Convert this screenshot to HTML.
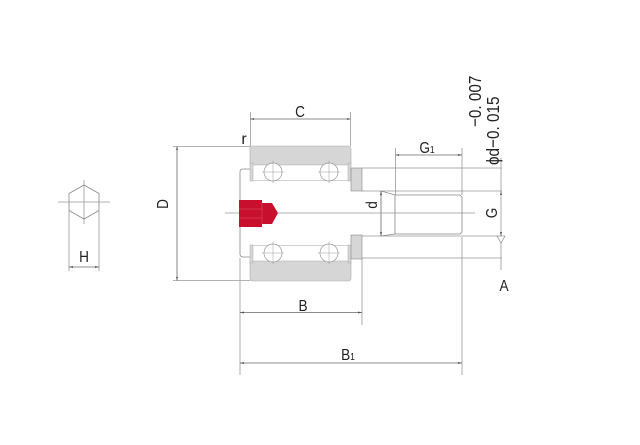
<!DOCTYPE html>
<html><head><meta charset="utf-8"><style>html,body{margin:0;padding:0;background:#fff}</style></head>
<body>
<svg width="640" height="440" viewBox="0 0 640 440" xmlns="http://www.w3.org/2000/svg" font-family="Liberation Sans, sans-serif" fill="none">
<g stroke="#999" stroke-width="0.8">
<polygon points="84,185 99,193.5 99,210.5 84,219 69,210.5 69,193.5" stroke="#888"/>
<line x1="58" y1="202" x2="110" y2="202"/><line x1="84" y1="180" x2="84" y2="224"/>
<line x1="69" y1="211" x2="69" y2="271"/><line x1="99" y1="211" x2="99" y2="271"/>
<line x1="69" y1="267" x2="99" y2="267" stroke="#666"/>
<line x1="173" y1="146.5" x2="250" y2="146.5"/><line x1="173" y1="280.5" x2="250" y2="280.5"/>
<line x1="177" y1="146.5" x2="177" y2="280.5" stroke="#666"/>
<line x1="250.5" y1="112" x2="250.5" y2="146"/><line x1="350.5" y1="112" x2="350.5" y2="146"/>
<line x1="250.5" y1="119" x2="350.5" y2="119" stroke="#666"/>
<line x1="240" y1="258" x2="240" y2="375"/><line x1="362" y1="258" x2="362" y2="325"/><line x1="462" y1="237" x2="462" y2="375"/>
<line x1="240" y1="312.5" x2="362" y2="312.5" stroke="#666"/>
<line x1="240" y1="363" x2="462" y2="363" stroke="#666"/>
<line x1="362" y1="168" x2="502" y2="168"/><line x1="362" y1="258" x2="502" y2="258"/>
<line x1="362" y1="191" x2="502" y2="191"/><line x1="362" y1="236" x2="502" y2="236"/>
<line x1="501" y1="158" x2="501" y2="270"/>
<line x1="395.5" y1="148" x2="395.5" y2="195"/><line x1="462" y1="148" x2="462" y2="195"/>
<line x1="395.5" y1="155" x2="462" y2="155" stroke="#666"/>
<line x1="381" y1="191" x2="381" y2="236" stroke="#666"/>
<line x1="225" y1="213" x2="475" y2="213"/>
<path d="M381,191 L395,195 L460,195 L462,197 L462,232 L460,234 L395,234 L381,236" stroke="#888"/>
<line x1="395" y1="195" x2="395" y2="234" stroke="#888"/>
<path d="M250,169 L243,169 Q240,169 240,172 L240,254 Q240,257 243,257 L250,257" stroke="#888"/>
</g>
<path d="M250,146 L348,146 Q351,146 351,149 L351,165 L250,165 Z" fill="#d6d6d6" stroke="#aaa" stroke-width="0.6"/>
<path d="M250,261 L351,261 L351,278 Q351,281 348,281 L253,281 Q250,281 250,278 Z" fill="#d6d6d6" stroke="#aaa" stroke-width="0.6"/>
<rect x="250" y="163" width="3" height="18" fill="#d6d6d6" stroke="#aaa" stroke-width="0.5"/>
<rect x="348" y="163" width="3" height="18" fill="#d6d6d6" stroke="#aaa" stroke-width="0.5"/>
<rect x="250" y="245" width="3" height="18" fill="#d6d6d6" stroke="#aaa" stroke-width="0.5"/>
<rect x="348" y="245" width="3" height="18" fill="#d6d6d6" stroke="#aaa" stroke-width="0.5"/>
<line x1="253" y1="180.5" x2="348" y2="180.5" stroke="#aaa" stroke-width="0.6"/>
<line x1="253" y1="245.5" x2="348" y2="245.5" stroke="#aaa" stroke-width="0.6"/>
<g stroke="#999" stroke-width="0.7" fill="#fff">
<circle cx="273" cy="172" r="9"/><circle cx="329" cy="172" r="9"/>
<circle cx="273" cy="253" r="9"/><circle cx="329" cy="253" r="9"/>
</g>
<g stroke="#999" stroke-width="0.5">
<line x1="262" y1="172" x2="284" y2="172"/><line x1="273" y1="161" x2="273" y2="183"/>
<line x1="318" y1="172" x2="340" y2="172"/><line x1="329" y1="161" x2="329" y2="183"/>
<line x1="262" y1="253" x2="284" y2="253"/><line x1="273" y1="242" x2="273" y2="264"/>
<line x1="318" y1="253" x2="340" y2="253"/><line x1="329" y1="242" x2="329" y2="264"/>
</g>
<rect x="351" y="168" width="11" height="23" fill="#d6d6d6" stroke="#888" stroke-width="0.6"/>
<rect x="351" y="235" width="11" height="24" fill="#d6d6d6" stroke="#888" stroke-width="0.6"/>
<path d="M239,200 L262,200 L262,203 L272,203 L278,213 L272,224 L262,224 L262,227 L239,227 Z" fill="#c8102e"/>
<g stroke="#e05060" stroke-width="0.5"><line x1="239" y1="209" x2="262" y2="209"/><line x1="239" y1="218" x2="262" y2="218"/><line x1="262" y1="203" x2="262" y2="224"/></g>
<g fill="#555">
<polygon points="69,267 73,266 73,268"/><polygon points="99,267 95,266 95,268"/>
<polygon points="177,146.5 176,150 178,150"/><polygon points="177,280.5 176,277 178,277"/>
<polygon points="250.5,119 254,118 254,120"/><polygon points="350.5,119 347,118 347,120"/>
<polygon points="240,312.5 244,311.5 244,313.5"/><polygon points="362,312.5 358,311.5 358,313.5"/>
<polygon points="240,363 244,362 244,364"/><polygon points="462,363 458,362 458,364"/>
<polygon points="395.5,155 399,154 399,156"/><polygon points="462,155 458,154 458,156"/>
<polygon points="381,191 380,195 382,195"/><polygon points="381,236 380,232 382,232"/>
<polygon points="501,191 500,195 502,195"/><polygon points="501,236 500,232 502,232"/>
</g>
<polygon points="497,236 505,236 501,243" fill="#fff" stroke="#777" stroke-width="0.6"/>
<g fill="#222" font-size="16">
<text x="84" y="262" text-anchor="middle" transform="translate(84 0) scale(0.85 1) translate(-84 0)">H</text>
<text x="300" y="117" text-anchor="middle" transform="translate(300 0) scale(0.85 1) translate(-300 0)">C</text>
<text x="244" y="144" text-anchor="middle">r</text>
<text x="303" y="311" text-anchor="middle" transform="translate(303 0) scale(0.85 1) translate(-303 0)">B</text>
<text x="348" y="360" text-anchor="middle" transform="translate(348 0) scale(0.85 1) translate(-348 0)">B<tspan font-size="10">1</tspan></text>
<text x="427" y="153" text-anchor="middle" transform="translate(427 0) scale(0.85 1) translate(-427 0)">G<tspan font-size="10">1</tspan></text>
<text x="504" y="291" text-anchor="middle" transform="translate(504 0) scale(0.85 1) translate(-504 0)">A</text>
<text transform="translate(168 204) rotate(-90) scale(0.85 1)" text-anchor="middle">D</text>
<text transform="translate(377 205) rotate(-90) scale(0.85 1)" text-anchor="middle">d</text>
<text transform="translate(497 213) rotate(-90) scale(0.85 1)" text-anchor="middle">G</text>
<text transform="translate(481 127) rotate(-90) scale(0.85 1)" font-size="18">−0. 007</text>
<text transform="translate(499 165) rotate(-90) scale(0.85 1)" font-size="18">ϕd−0. 015</text>
</g>
</svg>
</body></html>
